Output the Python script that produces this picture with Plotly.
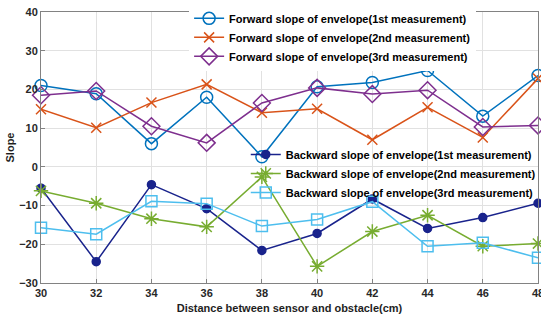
import plotly.graph_objects as go

distance = [30, 32, 34, 36, 38, 40, 42, 44, 46, 48]

fwd_1st = [21.0, 18.9, 6.0, 18.0, 2.6, 20.7, 21.8, 24.9, 13.1, 23.6]
fwd_2nd = [14.9, 10.1, 16.6, 21.3, 14.0, 15.0, 7.0, 15.4, 7.6, 22.8]
fwd_3rd = [18.5, 19.6, 10.5, 6.2, 16.5, 20.4, 18.8, 19.8, 10.3, 10.7]

bwd_1st = [-5.5, -24.5, -4.6, -10.8, -21.6, -17.2, -8.3, -15.9, -13.1, -9.4]
bwd_2nd = [-6.2, -9.4, -13.4, -15.5, -2.6, -25.7, -16.7, -12.5, -20.5, -19.8]
bwd_3rd = [-15.7, -17.4, -8.9, -9.5, -15.3, -13.6, -9.0, -20.5, -19.6, -23.5]

series = [
    ("Forward slope of envelope(1st measurement)", fwd_1st, "rgb(0,114,189)", "circle-open", 12, "legend"),
    ("Forward slope of envelope(2nd measurement)", fwd_2nd, "rgb(217,83,25)", "x-thin-open", 10, "legend"),
    ("Forward slope of envelope(3rd measurement)", fwd_3rd, "rgb(126,47,142)", "diamond-open", 13, "legend"),
    ("Backward slope of envelope(1st measurement)", bwd_1st, "rgb(25,35,140)", "circle", 8, "legend2"),
    ("Backward slope of envelope(2nd measurement)", bwd_2nd, "rgb(119,172,48)", "asterisk-open", 12, "legend2"),
    ("Backward slope of envelope(3rd measurement)", bwd_3rd, "rgb(77,190,238)", "square-open", 11, "legend2"),
]

fig = go.Figure()
for name, vals, color, sym, size, lg in series:
    fig.add_trace(go.Scatter(
        x=distance, y=vals, name=name, mode="lines+markers",
        line=dict(color=color, width=1.5),
        marker=dict(symbol=sym, size=size, color=color, line=dict(color=color, width=1.5)),
        legend=lg, cliponaxis=False,
    ))

font_family = "Liberation Sans, Arial, sans-serif"
axis_common = dict(
    showgrid=True, gridcolor="rgb(225,225,225)", gridwidth=1,
    showline=True, linecolor="rgb(130,130,130)", linewidth=1, mirror=True,
    ticks="inside", ticklen=4, tickcolor="rgb(130,130,130)",
    zeroline=False, ticklabeloverflow="allow", automargin=False,
    tickfont=dict(family=font_family, size=11, color="rgb(40,40,40)", weight="bold"),
)

legend_font = dict(size=11, family=font_family, color="black", weight="bold")

fig.update_layout(
    width=541, height=323,
    margin=dict(l=41, r=3, t=12, b=40, autoexpand=False),
    paper_bgcolor="white", plot_bgcolor="white",
    font=dict(family=font_family, color="rgb(30,30,30)"),
    xaxis=dict(range=[30, 48], tickvals=distance, **axis_common,
               title=dict(text="<b>Distance between sensor and obstacle(cm)</b>",
                          font=dict(size=11, family=font_family), standoff=6)),
    yaxis=dict(range=[-30, 40], dtick=10, **axis_common,
               title=dict(text="<b>Slope</b>", font=dict(size=11, family=font_family), standoff=2)),
    legend=dict(x=0.298, y=1.03, xanchor="left", yanchor="top",
                bgcolor="white", borderwidth=0, font=legend_font,
                itemwidth=30, tracegroupgap=0),
    legend2=dict(x=0.412, y=0.528, xanchor="left", yanchor="top",
                 bgcolor="rgba(255,255,255,0)", borderwidth=0, font=legend_font,
                 itemwidth=30, tracegroupgap=0),
    showlegend=True,
)

fig.write_html("out.html")
